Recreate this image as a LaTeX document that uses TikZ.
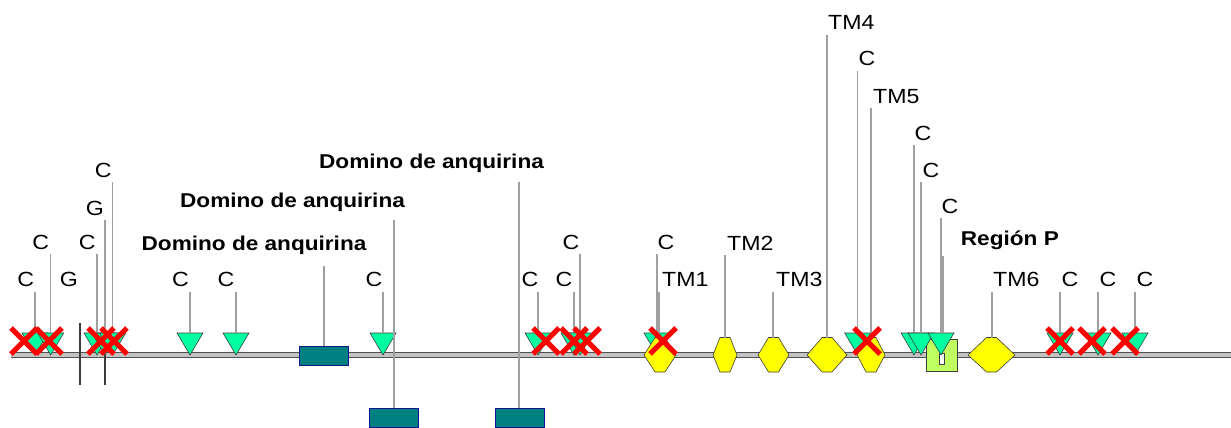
\documentclass[tikz,border=0pt]{standalone}
\usepackage{fontspec}
\setmainfont{Liberation Sans}
\definecolor{sitefill}{RGB}{0,255,160}
\definecolor{tmfill}{RGB}{255,255,0}
\definecolor{domfill}{RGB}{0,128,128}
\definecolor{domline}{RGB}{20,20,140}
\definecolor{pfill}{RGB}{192,255,96}
\definecolor{stemgray}{RGB}{160,160,160}
\definecolor{edgegray}{RGB}{60,60,60}
\definecolor{bbdark}{RGB}{80,80,80}
\definecolor{bblight}{RGB}{195,195,195}
\newcommand\wtxt[1]{\scalebox{1.13}[1]{#1}}
\begin{document}
\begin{tikzpicture}[x=1pt,y=-1pt,
  lab/.style={inner sep=0pt,font=\fontsize{20.5}{24}\selectfont},
  blab/.style={inner sep=0pt,font=\fontsize{20}{24}\selectfont\bfseries},
  stemline/.style={draw=stemgray,line width=1.3pt},
  sitetri/.style={fill=sitefill,draw=edgegray,line width=0.6pt},
  tmhex/.style={fill=tmfill,draw=edgegray,line width=0.6pt},
  dombox/.style={fill=domfill,draw=domline,line width=0.9pt,minimum width=49pt,minimum height=19pt,inner sep=0pt},
  xmark/.style={draw=red,line width=5pt},
  vline/.style={draw=edgegray,line width=1.4pt}]
\useasboundingbox (0,0) rectangle (1231,428);
% backbone
\coordinate (bbL) at (11,355);
\coordinate (bbR) at (1231,355);
\draw[bbdark,line width=6.6pt] (bbL) -- (bbR);
\draw[bblight,line width=3.4pt] (bbL) -- (bbR);
% vertical marks
\coordinate (v1t) at (80,323); \coordinate (v1b) at (80,385);
\coordinate (v2t) at (105,323); \coordinate (v2b) at (105,385);
\draw[vline] (v1t) -- (v1b);
\draw[vline] (v2t) -- (v2b);
% domain boxes
\node[dombox] (D1) at (323.5,355.5) {};
\node[dombox] (D2) at (393.5,417.5) {};
\node[dombox] (D3) at (519.5,417.5) {};
% region P box
\node[draw=edgegray,fill=pfill,line width=0.8pt,minimum width=31pt,minimum height=32pt,inner sep=0pt] (PB) at (941.5,355) {};
\node[draw=edgegray,fill=white,line width=0.6pt,minimum width=5pt,minimum height=11pt,inner sep=0pt] (PN) at (941.5,358.5) {};
% site triangles, labels, stems
\foreach \sx/\lx/\by/\txt [count=\i] in {
  35/25.7/286.5/C, 50.7/40.7/249/C, 97/87.3/249/C, 105/95/215/G, 112.7/103.3/177/C,
  190/180.5/286.5/C, 236/226/286.5/C, 383/374/286.5/C, 538/530/286.5/C, 574/564/286.5/C,
  580/571/249/C, 657/666/249/C, 857.7/867/66/C, 914/923/140/C, 921/931/177/C,
  941/950/213/C, 1060/1070/286.5/C, 1098/1108/286.5/C, 1135/1145/286.5/C}{
  \coordinate (t\i) at (\sx,333);
  \path[sitetri] ({\sx-13},333) -- ({\sx+13},333) -- (\sx,355) -- cycle;
  \node[lab,anchor=base] (c\i) at (\lx,\by) {\wtxt{\txt}};
  \coordinate (s\i) at (\sx,\by+5);
  \draw[stemline] (s\i) -- (t\i);
}
\node[lab,anchor=base] (g0) at (69,286.5) {\wtxt{G}};
% transmembrane hexagons
\foreach \cx/\w/\sx/\lx/\by/\txt in {
  660/32/659/662/286.5/TM1, 725/24/725/727/250/TM2, 773.5/31/773/776/286.5/TM3,
  827/40/827/828/30/TM4, 871/28/871/873/103/TM5, 991.5/47/992/993/286.5/TM6}{
  \path[tmhex] ({\cx-\w/2},355) -- ({\cx-5},337.5) -- ({\cx+5},337.5)
     -- ({\cx+\w/2},355) -- ({\cx+5},372) -- ({\cx-5},372) -- cycle;
  \coordinate (h\txt) at (\sx,337.5);
  \node[lab,anchor=base west] (l\txt) at (\lx,\by) {\wtxt{\txt}};
  \coordinate (s\txt) at (\sx,\by+5);
  \draw[stemline] (s\txt) -- (h\txt);
}
% domain labels and stems
\node[blab,anchor=base] (LD1) at (254,250) {\wtxt{Domino de anquirina}};
\node[blab,anchor=base] (LD2) at (292.5,207) {\wtxt{Domino de anquirina}};
\node[blab,anchor=base] (LD3) at (431.5,168) {\wtxt{Domino de anquirina}};
\node[blab,anchor=base west] (LP) at (960.7,245) {\wtxt{Región P}};
\coordinate (sD1) at (324,266);
\coordinate (sD2) at (394,220);
\coordinate (sD3) at (519,182);
\coordinate (sP) at (943,256);
\coordinate (eP) at (943,333);
\draw[stemline] (sD1) -- (sD1 |- D1.north);
\draw[stemline] (sD2) -- (sD2 |- D2.north);
\draw[stemline] (sD3) -- (sD3 |- D3.north);
\draw[stemline] (sP) -- (eP);
% red crosses
\foreach \x in {24,49,101,114,546,574,587,663,867,1060,1092,1125}{
  \draw[xmark] ({\x-13},328) -- ({\x+13},354) ({\x-13},354) -- ({\x+13},328);
}
\end{tikzpicture}
\end{document}
